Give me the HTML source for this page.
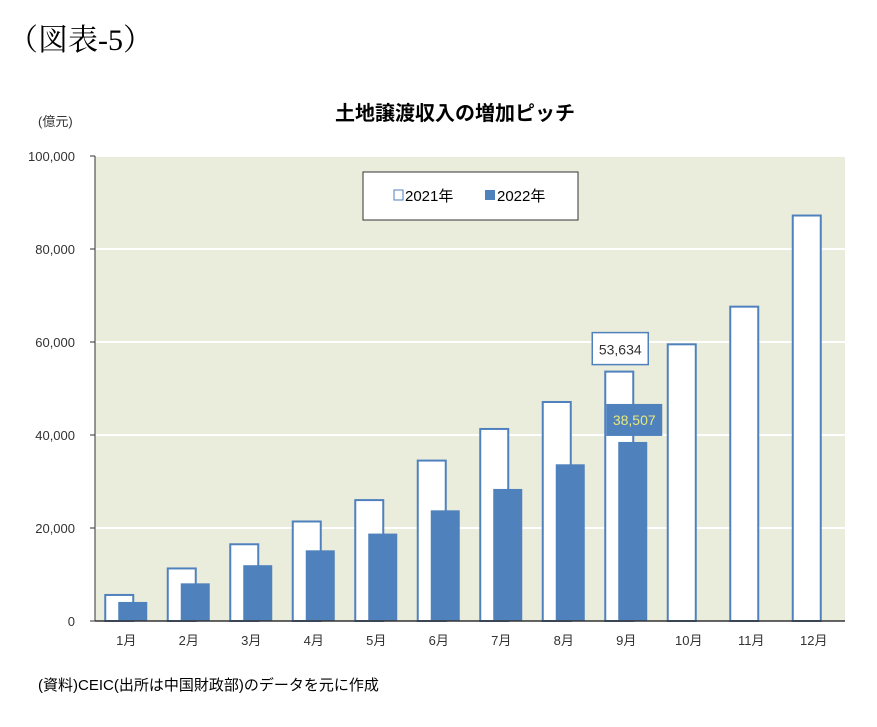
<!DOCTYPE html>
<html><head><meta charset="utf-8"><style>
body{margin:0;background:#fff;width:877px;height:722px;overflow:hidden;font-family:"Liberation Sans","Noto Sans CJK JP",sans-serif}
svg text{font-family:"Liberation Sans","Noto Sans CJK JP",sans-serif}
</style></head><body>
<svg width="877" height="722">
<text x="8" y="50" font-size="30" style="font-family:'Liberation Serif','Noto Serif CJK SC',serif">（図表-5）</text>
<text x="455" y="120" font-size="20" text-anchor="middle" font-weight="bold">土地譲渡収入の増加ピッチ</text>
<text x="38" y="126" font-size="13" fill="#333">(億元)</text>
<rect x="95" y="156" width="750" height="465" fill="#ebeddc"/>
<g id="grid"></g><g id="bars"></g><g id="axes"></g>
<g>
<rect x="363" y="172" width="215" height="48" fill="#fff" stroke="#333"/>
<rect x="394" y="190" width="9" height="10" fill="#fff" stroke="#4f81bd"/>
<text x="405" y="201" font-size="15">2021年</text>
<rect x="485" y="190" width="10" height="10" fill="#4f81bd"/>
<text x="497" y="201" font-size="15">2022年</text>
</g>
<text x="38" y="690" font-size="15">(資料)CEIC(出所は中国財政部)のデータを元に作成</text>
</svg>
<script>
const categories=["1月","2月","3月","4月","5月","6月","7月","8月","9月","10月","11月","12月"];
const values2021=[5600,11300,16500,21400,26000,34500,41300,47100,53634,59500,67600,87200];
const values2022=[4100,8100,12000,15200,18800,23800,28400,33700,38507];
const yTicks=[0,20000,40000,60000,80000,100000];
const x0=95,x1=845,yB=621,yT=156,yMax=100000;
const NS="http://www.w3.org/2000/svg";
const y=v=>yB-(v/yMax)*(yB-yT);
const band=(x1-x0)/categories.length;
const cx=i=>x0+band*(i+0.5);
function mk(p,tag,at,txt){const e=document.createElementNS(NS,tag);for(const k in at)e.setAttribute(k,at[k]);if(txt!=null)e.textContent=txt;document.getElementById(p).appendChild(e);return e;}
const fmt=v=>v.toLocaleString("en-US");
yTicks.forEach(t=>{
 if(t>0){const g=mk("grid","line",{x1:x0,x2:x1,y1:y(t),y2:y(t),stroke:"#fff","stroke-width":2});
 
 }
 const l=mk("axes","text",{x:x0-20,y:y(t)+5,"font-size":13,"text-anchor":"end",fill:"#333"},fmt(t));
 
 
 const tk=mk("axes","line",{x1:x0-5,x2:x0,y1:y(t),y2:y(t),stroke:"#333"});
 
 
});
values2021.forEach((v,i)=>{
 const r=mk("bars","rect",{x:cx(i)-21,y:y(v),width:28,height:yB-y(v),fill:"#fff",stroke:"#4f81bd","stroke-width":2});
 
 
});
values2022.forEach((v,i)=>{
 const r=mk("bars","rect",{x:cx(i)-8,y:y(v),width:29,height:yB-y(v),fill:"#4f81bd"});
 
 
});
categories.forEach((c,i)=>{
 const t=mk("axes","text",{x:cx(i),y:645,"font-size":13,"text-anchor":"middle",fill:"#333"},c);
 
 
});
const ax=mk("axes","line",{x1:x0,x2:x0,y1:yT,y2:yB,stroke:"#333"});


const bx=mk("axes","line",{x1:x0,x2:x1,y1:yB,y2:yB,stroke:"#333","stroke-width":1.5});


const i9=8;
const lb1=mk("axes","rect",{x:cx(i9)-34,y:y(values2021[i9])-39,width:56,height:32,fill:"#fff",stroke:"#4f81bd","stroke-width":1.5});


const lt1=mk("axes","text",{x:cx(i9)-6,y:y(values2021[i9])-17,"font-size":14,"text-anchor":"middle",fill:"#333"},fmt(values2021[i9]));


const lb2=mk("axes","rect",{x:cx(i9)-20,y:y(values2022[i9])-38,width:56,height:32,fill:"#4f81bd"});


const lt2=mk("axes","text",{x:cx(i9)+8,y:y(values2022[i9])-17,"font-size":14,"text-anchor":"middle",fill:"#e8e87a"},fmt(values2022[i9]));


</script>
</body></html>
